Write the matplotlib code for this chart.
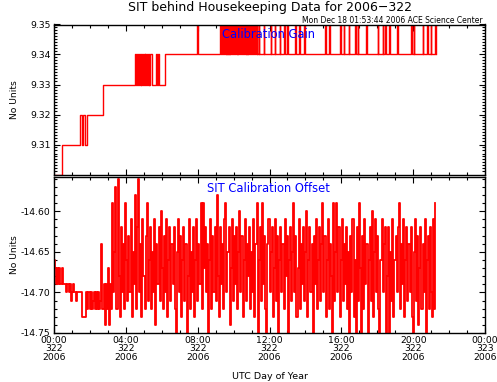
import numpy as np
import matplotlib
matplotlib.use("Agg")
import matplotlib.pyplot as plt
from matplotlib.ticker import MultipleLocator, FormatStrFormatter, FixedLocator

# ---------------- data ----------------
# Calibration gain: step changes (hours since 00:00 UTC, day 322)
gain_step_times = [0.0, 0.43, 1.44, 1.55, 1.63, 1.72, 1.85, 2.74,
                   4.50, 4.56, 4.63, 4.68, 4.74, 4.78, 4.82, 4.86, 4.90, 4.95,
                   5.00, 5.04, 5.08, 5.13, 5.18, 5.22, 5.27, 5.31, 5.36, 5.43,
                   5.70, 5.74, 5.80, 5.84, 6.17]
gain_step_values = [9.30, 9.31, 9.32, 9.31, 9.32, 9.31, 9.32, 9.33,
                    9.34, 9.33, 9.34, 9.33, 9.34, 9.33, 9.34, 9.33, 9.34, 9.33,
                    9.34, 9.33, 9.34, 9.33, 9.34, 9.33, 9.34, 9.33, 9.34, 9.33,
                    9.34, 9.33, 9.34, 9.33, 9.34]
gain_base = 9.34
gain_high = 9.35
# brief excursions to 9.35 (start, end) in hours
gain_spike_start = [7.96, 9.26, 9.32, 9.38, 9.43, 9.49, 9.55, 9.62, 9.67, 9.73, 9.80,
                    9.85, 9.92, 9.98, 10.04, 10.10, 10.17, 10.22, 10.29, 10.36, 10.41,
                    10.48, 10.55, 10.60, 10.67, 10.73, 10.80, 10.85, 10.92, 10.98,
                    11.05, 11.10, 11.20, 11.30, 11.40,
                    11.68, 12.06, 12.28, 12.56, 12.80, 12.98, 13.44, 13.67, 13.94,
                    15.11, 15.33, 15.94, 16.13, 16.41, 16.76, 16.91, 17.37, 18.02,
                    18.30, 18.43, 18.67, 19.09, 19.87, 20.02, 20.52, 20.76, 20.98, 21.22]
gain_spike_end = [8.00, 9.29, 9.36, 9.40, 9.47, 9.52, 9.60, 9.64, 9.71, 9.77, 9.82,
                  9.90, 9.95, 10.02, 10.07, 10.15, 10.19, 10.27, 10.33, 10.38, 10.46,
                  10.52, 10.57, 10.65, 10.70, 10.77, 10.82, 10.90, 10.95, 11.02,
                  11.07, 11.15, 11.23, 11.33, 11.44,
                  11.72, 12.10, 12.32, 12.60, 12.84, 13.02, 13.48, 13.71, 13.98,
                  15.15, 15.37, 15.98, 16.17, 16.45, 16.80, 16.95, 17.41, 18.06,
                  18.34, 18.47, 18.71, 19.13, 19.91, 20.06, 20.56, 20.80, 21.02, 21.26]
gain_end_time = 21.28

# Calibration offset, sampled every 0.06 h from 00:00
offset_cadence_h = 0.06
offset_values = [
    -14.66, -14.67, -14.69, -14.67, -14.69, -14.67, -14.69, -14.67, -14.69, -14.69,
    -14.69, -14.70, -14.69, -14.69, -14.70, -14.69, -14.71, -14.70, -14.69, -14.70,
    -14.71, -14.70, -14.70, -14.70, -14.70, -14.70, -14.73, -14.73, -14.73, -14.73,
    -14.70, -14.72, -14.70, -14.72, -14.70, -14.72, -14.71, -14.70, -14.72, -14.70,
    -14.72, -14.70, -14.72, -14.71, -14.64, -14.72, -14.69, -14.74, -14.69, -14.72,
    -14.67, -14.74, -14.69, -14.72, -14.59, -14.70, -14.65, -14.57, -14.72, -14.56,
    -14.68, -14.73, -14.62, -14.70, -14.64, -14.72, -14.59, -14.66, -14.71, -14.63,
    -14.70, -14.61, -14.73, -14.65, -14.69, -14.58, -14.72, -14.62, -14.56, -14.70,
    -14.64, -14.73, -14.61, -14.68, -14.72, -14.63, -14.59, -14.71, -14.66, -14.62,
    -14.72, -14.65, -14.70, -14.61, -14.74, -14.64, -14.69, -14.62, -14.71, -14.60,
    -14.67, -14.72, -14.63, -14.70, -14.61, -14.73, -14.66, -14.62, -14.71, -14.64,
    -14.69, -14.62, -14.72, -14.75, -14.65, -14.61, -14.70, -14.63, -14.73, -14.66,
    -14.62, -14.71, -14.64, -14.75, -14.68, -14.61, -14.72, -14.65, -14.70, -14.62,
    -14.73, -14.66, -14.61, -14.71, -14.64, -14.69, -14.59, -14.72, -14.59, -14.67,
    -14.62, -14.70, -14.64, -14.75, -14.66, -14.61, -14.72, -14.63, -14.70, -14.62,
    -14.71, -14.58, -14.68, -14.73, -14.62, -14.69, -14.64, -14.72, -14.61, -14.59,
    -14.70, -14.65, -14.62, -14.74, -14.67, -14.61, -14.71, -14.63, -14.69, -14.62,
    -14.72, -14.65, -14.60, -14.70, -14.63, -14.73, -14.66, -14.61, -14.71, -14.64,
    -14.68, -14.62, -14.72, -14.65, -14.70, -14.61, -14.73, -14.64, -14.59, -14.75,
    -14.66, -14.62, -14.71, -14.59, -14.69, -14.63, -14.72, -14.75, -14.64, -14.61,
    -14.70, -14.65, -14.62, -14.73, -14.67, -14.61, -14.71, -14.63, -14.75, -14.66,
    -14.62, -14.70, -14.64, -14.72, -14.61, -14.68, -14.63, -14.75, -14.66, -14.62,
    -14.71, -14.65, -14.59, -14.70, -14.63, -14.73, -14.67, -14.61, -14.72, -14.64,
    -14.69, -14.62, -14.71, -14.65, -14.60, -14.73, -14.66, -14.62, -14.70, -14.64,
    -14.75, -14.63, -14.69, -14.61, -14.72, -14.66, -14.62, -14.71, -14.64, -14.59,
    -14.70, -14.63, -14.73, -14.66, -14.61, -14.72, -14.64, -14.68, -14.75, -14.59,
    -14.71, -14.65, -14.59, -14.70, -14.62, -14.73, -14.66, -14.61, -14.71, -14.64,
    -14.69, -14.62, -14.72, -14.65, -14.75, -14.63, -14.70, -14.61, -14.73, -14.66,
    -14.75, -14.62, -14.71, -14.59, -14.67, -14.75, -14.63, -14.72, -14.61, -14.69,
    -14.64, -14.75, -14.66, -14.62, -14.71, -14.60, -14.73, -14.65, -14.61, -14.70,
    -14.63, -14.72, -14.75, -14.66, -14.61, -14.70, -14.64, -14.62, -14.75, -14.68,
    -14.62, -14.75, -14.65, -14.71, -14.61, -14.73, -14.66, -14.63, -14.70, -14.62,
    -14.59, -14.72, -14.64, -14.69, -14.61, -14.73, -14.66, -14.62, -14.71, -14.64,
    -14.70, -14.62, -14.73, -14.75, -14.65, -14.61, -14.71, -14.63, -14.74, -14.67,
    -14.62, -14.72, -14.64, -14.70, -14.61, -14.75, -14.66, -14.63, -14.72, -14.62,
    -14.70, -14.73, -14.61, -14.72, -14.59,
]

x_tick_hours = [0, 4, 8, 12, 16, 20, 24]
x_tick_labels = ["00:00\n322\n2006", "04:00\n322\n2006", "08:00\n322\n2006",
                 "12:00\n322\n2006", "16:00\n322\n2006", "20:00\n322\n2006",
                 "00:00\n323\n2006"]

title = "SIT behind Housekeeping Data for 2006\u2212322"
stamp = "Mon Dec 18 01:53:44 2006 ACE Science Center"

# ---------------- build series ----------------
g_t = list(gain_step_times)
g_v = list(gain_step_values)
for s, e in zip(gain_spike_start, gain_spike_end):
    g_t += [s, e]
    g_v += [gain_high, gain_base]
g_t.append(gain_end_time)
g_v.append(gain_base)
order = np.argsort(g_t, kind="stable")
g_t = np.array(g_t)[order]
g_v = np.array(g_v)[order]

o_v = np.array(offset_values)
o_t = np.arange(len(o_v)) * offset_cadence_h

# ---------------- figure ----------------
W, H = 497, 382
fig = plt.figure(figsize=(W / 100, H / 100), dpi=100)
plt.rcParams["font.family"] = ["DejaVu Sans"]

L, R = 54, 485
def rect(top, bottom):
    return [L / W, 1 - bottom / H, (R - L) / W, (bottom - top) / H]

ax1 = fig.add_axes(rect(24.5, 174.5))
ax2 = fig.add_axes(rect(177, 333))

red = "#ff0000"
blue = "#0000ff"
tick_fs = 6.7

ax1.step(g_t, g_v, where="post", color=red, lw=1.0)
ax2.step(o_t, o_v, where="post", color=red, lw=1.3)

for ax in (ax1, ax2):
    ax.set_xlim(0, 24)
    ax.xaxis.set_major_locator(FixedLocator(x_tick_hours))
    ax.xaxis.set_minor_locator(MultipleLocator(1))
    ax.tick_params(which="both", direction="in", top=True, right=True,
                   labelsize=tick_fs, width=0.8, colors="black")
    ax.tick_params(which="major", length=4.5, pad=2.5)
    ax.tick_params(which="minor", length=2.5)
    for sp in ax.spines.values():
        sp.set_linewidth(1.0)
        sp.set_zorder(5)
    ax.set_ylabel("No Units", fontsize=6.6)
    ax.yaxis.set_label_coords(-0.081, 0.5)

ax1.set_ylim(9.30, 9.35)
ax1.yaxis.set_major_locator(FixedLocator([9.31, 9.32, 9.33, 9.34, 9.35]))
ax1.yaxis.set_minor_locator(MultipleLocator(0.001))
ax1.yaxis.set_major_formatter(FormatStrFormatter("%.2f"))
ax1.set_xticklabels([])

ax2.set_ylim(-14.75, -14.558)
ax2.yaxis.set_major_locator(FixedLocator([-14.75, -14.70, -14.65, -14.60]))
ax2.yaxis.set_minor_locator(MultipleLocator(0.01))
ax2.yaxis.set_major_formatter(FormatStrFormatter("%.2f"))
ax2.set_xticklabels(x_tick_labels, linespacing=0.95)
ax2.tick_params(axis="x", which="major", pad=2.0)

fig.text(269.5 / W, 1 - 11 / H, title, ha="center", va="baseline", fontsize=9)
fig.text(483 / W, 1 - 23 / H, stamp, ha="right", va="baseline", fontsize=5.5)
fig.text(268 / W, 1 - 38 / H, "Calibration Gain", ha="center", va="baseline",
         fontsize=8.3, color=blue, zorder=10)
fig.text(268 / W, 1 - 191.5 / H, "SIT Calibration Offset", ha="center",
         va="baseline", fontsize=8.3, color=blue, zorder=10)
fig.text(269.5 / W, 1 - 379 / H, "UTC Day of Year", ha="center", va="baseline",
         fontsize=6.8)

fig.savefig("out.png", dpi=100, facecolor="white")
